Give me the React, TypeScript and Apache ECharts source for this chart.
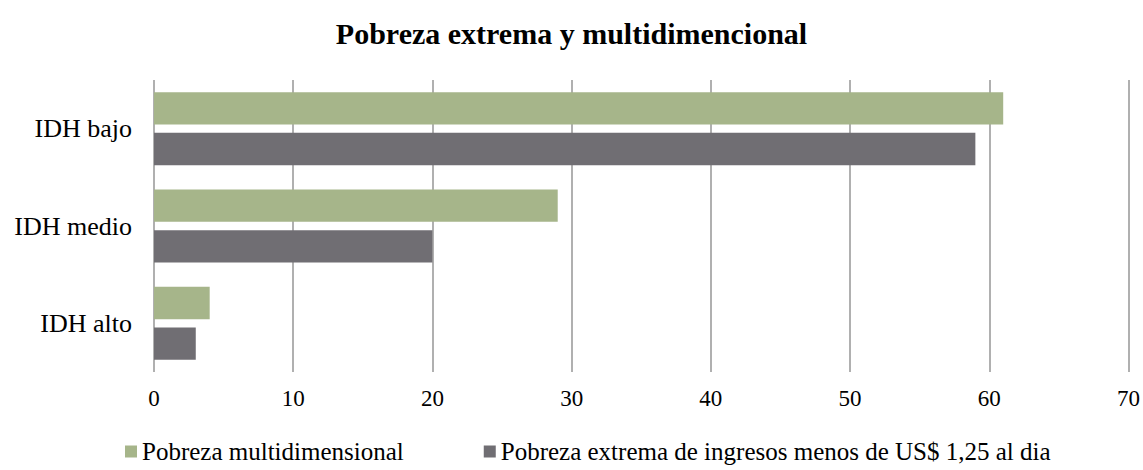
import React, { useEffect, useRef } from "react";
import * as echarts from "echarts";

const title = "Pobreza extrema y multidimencional";
const categories = ["IDH bajo", "IDH medio", "IDH alto"];
const seriesNames = [
  "Pobreza multidimensional",
  "Pobreza extrema de ingresos menos de US$ 1,25 al dia",
];
const multidimensional = [61, 29, 4];
const extrema = [59, 20, 3];
const colors = ["#A6B58A", "#706E73"];
const FONT = "Liberation Serif";

export default function App() {
  const ref = useRef<HTMLDivElement>(null);
  useEffect(() => {
    if (!ref.current) return;
    const chart = echarts.init(ref.current, null, { renderer: "svg" });
    chart.setOption({
      animation: false,
      backgroundColor: "#ffffff",
      textStyle: { fontFamily: FONT, color: "#000" },
      title: {
        text: title,
        left: "center",
        top: 13,
        textStyle: { fontFamily: FONT, fontSize: 30, fontWeight: "bold", color: "#000" },
      },
      legend: {
        left: 120,
        top: 434,
        itemWidth: 12,
        itemHeight: 12,
        itemGap: 80,
        icon: "rect",
        textStyle: { fontFamily: FONT, fontSize: 25, color: "#000" },
        data: seriesNames,
      },
      grid: { left: 154, right: 14, top: 80, bottom: 98, containLabel: false },
      xAxis: {
        type: "value",
        min: 0,
        max: 70,
        interval: 10,
        axisLine: { show: false },
        axisTick: { show: false },
        axisLabel: { fontFamily: FONT, fontSize: 23, color: "#000", margin: 15 },
        splitLine: { show: true, lineStyle: { color: "#969696", width: 1.5 } },
      },
      yAxis: {
        type: "category",
        data: categories,
        inverse: true,
        axisLine: { show: false },
        axisTick: { show: false },
        axisLabel: { fontFamily: FONT, fontSize: 26, color: "#000", margin: 22 },
        splitLine: { show: false },
      },
      series: [
        {
          name: seriesNames[0],
          type: "bar",
          data: multidimensional,
          itemStyle: { color: colors[0] },
          barGap: "26%",
          barCategoryGap: "25%",
        },
        {
          name: seriesNames[1],
          type: "bar",
          data: extrema,
          itemStyle: { color: colors[1] },
          barGap: "26%",
          barCategoryGap: "25%",
        },
      ],
    });
    return () => chart.dispose();
  }, []);
  return (
    <div
      ref={ref}
      style={{ position: "fixed", left: 0, top: 0, width: 1143, height: 470 }}
    />
  );
}
